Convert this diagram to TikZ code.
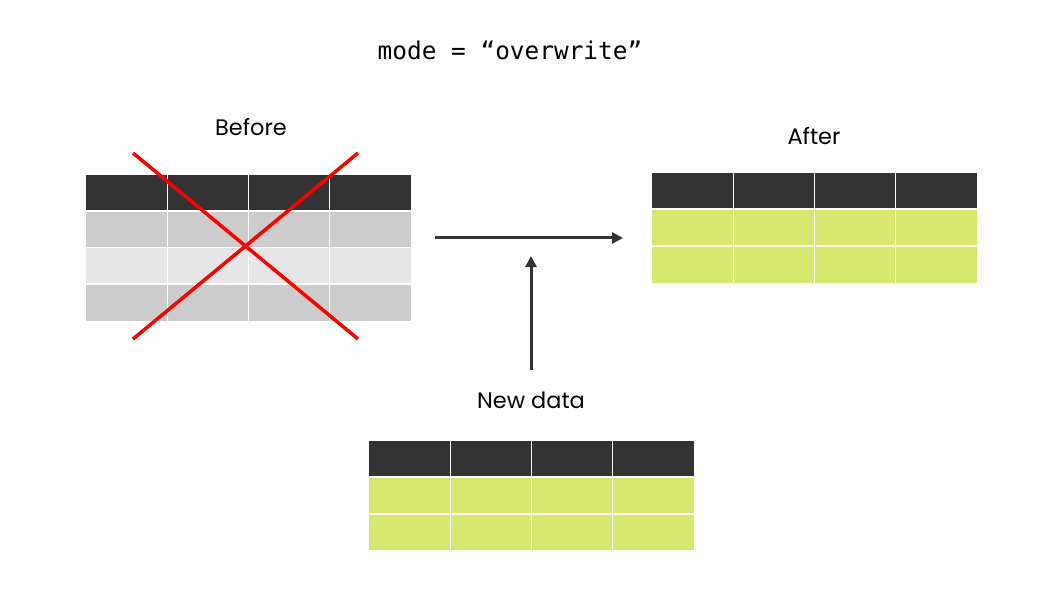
\documentclass[tikz,border=0pt]{standalone}
\usepackage{fontspec}
\setmainfont{Poppins}
\setmonofont{DejaVu Sans Mono}
\usetikzlibrary{arrows.meta}
\definecolor{hdr}{HTML}{333333}
\definecolor{gA}{HTML}{CCCCCC}
\definecolor{gB}{HTML}{E6E6E6}
\definecolor{grn}{HTML}{D6E96E}
\definecolor{xred}{HTML}{FF0000}
\tikzset{
  cellsep/.style={draw=white, line width=1.3bp},
  lbl/.style={font=\fontsize{22.5}{26}\selectfont, text=black, inner sep=0},
  tblbox/.style={inner sep=0, minimum width=325bp, anchor=north west},
  conn/.style={draw=hdr, line width=3bp, -{Triangle[length=11bp,width=11bp]}},
  cross/.style={draw=xred, line width=3.5bp}
}
\begin{document}
\begin{tikzpicture}[x=1bp,y=-1bp]
\useasboundingbox[fill=white] (0,0) rectangle (1058,595);
\node[font=\ttfamily\fontsize{24.5}{28}\selectfont, inner sep=0] (title) at (510,50) {mode = “overwrite”};
\node[lbl] (lbefore) at (251,127) {Before};
\node[lbl] (lafter) at (814,136) {After};
\node[lbl] (lnew) at (531,400) {New data};
% before table
\fill[hdr] (86,175) rectangle (411,211);
\fill[gA] (86,211) rectangle (411,247.5);
\fill[gB] (86,247.5) rectangle (411,284);
\fill[gA] (86,284) rectangle (411,320.5);
\node[tblbox, minimum height=145.5bp] (before) at (86,175) {};
\foreach \yy in {211,247.5,284} \draw[cellsep] (86,\yy) -- (411,\yy);
\foreach \k in {1,2,3} \draw[cellsep] ({86+81.25*\k},175) -- ({86+81.25*\k},320.5);
% after table
\fill[hdr] (652,173) rectangle (977,209);
\fill[grn] (652,209) rectangle (977,283);
\node[tblbox, minimum height=110bp] (after) at (652,173) {};
\foreach \yy in {209,246} \draw[cellsep] (652,\yy) -- (977,\yy);
\foreach \k in {1,2,3} \draw[cellsep] ({652+81.25*\k},173) -- ({652+81.25*\k},283);
% new data table
\fill[hdr] (369,441) rectangle (694,477);
\fill[grn] (369,477) rectangle (694,550);
\node[tblbox, minimum height=109bp] (newt) at (369,441) {};
\foreach \yy in {477,514} \draw[cellsep] (369,\yy) -- (694,\yy);
\foreach \k in {1,2,3} \draw[cellsep] ({369+81.25*\k},441) -- ({369+81.25*\k},550);
% cross
\coordinate (x1) at (133,153);
\coordinate (x2) at (358,339);
\coordinate (x3) at (358,153);
\coordinate (x4) at (133,339);
\draw[cross] (x1) -- (x2);
\draw[cross] (x3) -- (x4);
% arrows
\coordinate (h1) at (435,238);
\coordinate (h2) at (623,238);
\coordinate (v1) at (531,370);
\coordinate (v2) at (531,256);
\draw[conn] (h1) -- (h2);
\draw[conn] (v1) -- (v2);
\end{tikzpicture}
\end{document}
